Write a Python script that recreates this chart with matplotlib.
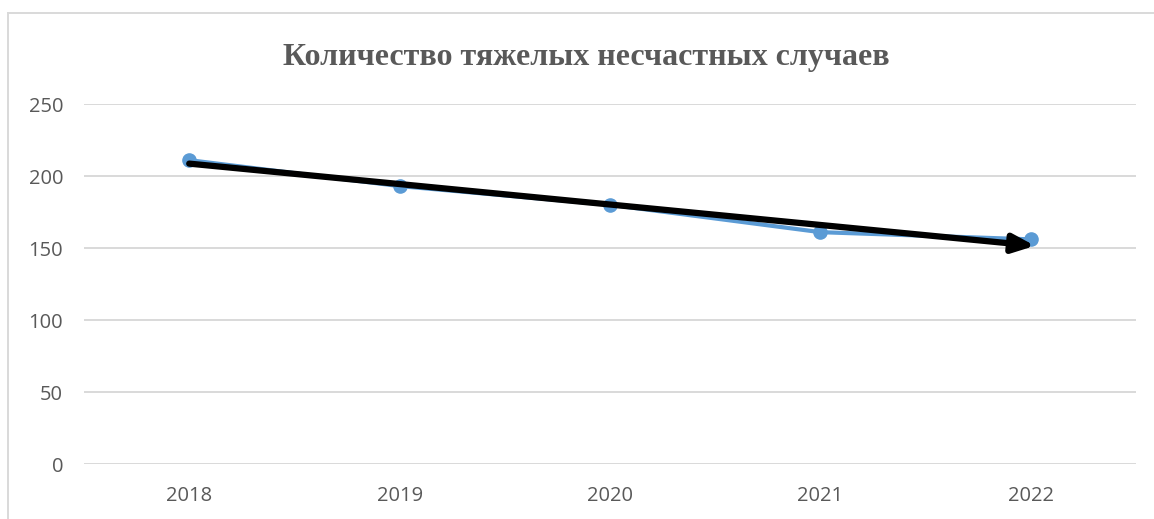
import matplotlib.pyplot as plt
import numpy as np
from matplotlib.lines import Line2D

years = ['2018', '2019', '2020', '2021', '2022']
accidents = [211, 193, 180, 161, 156]
y_ticks = [0, 50, 100, 150, 200, 250]

fig = plt.figure(figsize=(11.54, 5.19), dpi=100)
ax = fig.add_axes([84 / 1154, 1 - 464 / 519, 1052 / 1154, 360 / 519])

x = np.arange(len(years))
ax.plot(x, accidents, color='#5B9BD5', linewidth=3.0, marker='o',
        markersize=9.5, zorder=3)

# trend arrow from a straight-line fit
k, b = np.polyfit(x, accidents, 1)
ax.annotate('', xy=(x[-1] + 0.02, k * (x[-1] + 0.02) + b), xytext=(x[0], k * x[0] + b),
            arrowprops=dict(arrowstyle='-|>,head_length=1.3,head_width=0.55',
                            color='black', lw=4.5, shrinkA=0, shrinkB=0),
            zorder=4)

ax.set_xlim(-0.5, len(years) - 0.5)
ax.set_ylim(0, 250)
ax.set_yticks(y_ticks)
ax.set_xticks(x)
ax.set_xticklabels(years)
ax.grid(axis='y', color='#D9D9D9', linewidth=1.4)
ax.set_axisbelow(True)
for s in ax.spines.values():
    s.set_visible(False)
ax.tick_params(length=0, labelsize=14.5, colors='#595959')
for lab in ax.get_xticklabels() + ax.get_yticklabels():
    lab.set_fontfamily('Open Sans')
ax.tick_params(axis='x', pad=16)
ax.tick_params(axis='y', pad=15)

fig.text(586 / 1154, 1 - 57 / 519, 'Количество тяжелых несчастных случаев',
         ha='center', va='center', fontsize=23, fontweight='bold',
         family='Liberation Serif', color='#595959')

# chart area border (left and top edges)
fig.add_artist(Line2D([8 / 1154, 8 / 1154], [0, 1 - 13 / 519], color='#D9D9D9', lw=1.4))
fig.add_artist(Line2D([8 / 1154, 1], [1 - 13 / 519, 1 - 13 / 519], color='#D9D9D9', lw=1.4))

fig.savefig('out.png', dpi=100)
